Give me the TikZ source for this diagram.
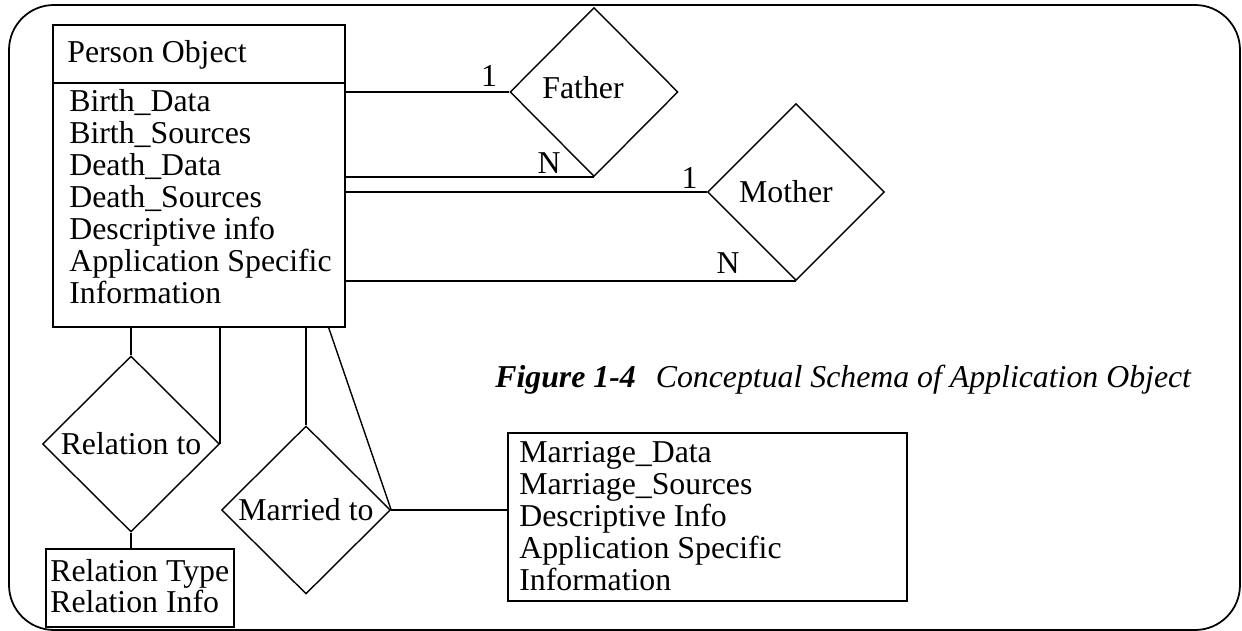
\documentclass[tikz,border=0pt]{standalone}
\usepackage{fontspec}
\setmainfont{Liberation Serif}
\usetikzlibrary{shapes.geometric}

\tikzset{
  er/.style={line width=0.8pt},
  entity/.style={draw, er, inner sep=0pt},
  relship/.style={draw, er, diamond, inner sep=0pt},
  attr/.style={inner sep=0pt, anchor=base west},
  card/.style={inner sep=0pt, anchor=base east},
}

\begin{document}
\begin{tikzpicture}[x=0.02cm, y=-0.02cm,
  every node/.style={font=\fontsize{18.1}{18.2}\selectfont}]
\useasboundingbox (0,0) rectangle (1242,631);
% frame
\draw[line width=1pt, rounded corners=0.9cm] (9,5) rectangle (1240,630);

% person object
\node[entity, minimum width=5.84cm, minimum height=6.04cm] (person) at (199,176) {};
\coordinate (hdr) at (199,83);
\draw[er] (person.west |- hdr) -- (person.east |- hdr);
\node[attr] (ptitle) at (67,63) {Person Object};
\foreach \t [count=\i] in {Birth\_Data, Birth\_Sources, Death\_Data, Death\_Sources,
    Descriptive info, Application Specific, Information}
  \node[attr] (pa\i) at (69,{112+31.85*(\i-1)}) {\t};

% father and mother
\node[relship, minimum width=3.36cm, minimum height=3.38cm,
  label={[shift={(-0.22cm,0.08cm)}]center:Father}] (father) at (594,92) {};
\node[relship, minimum width=3.54cm, minimum height=3.54cm,
  label={[shift={(-0.2cm,0cm)}]center:Mother}] (mother) at (796,192) {};
\draw[er] (father.west -| person.east) -- (father.west);
\draw[er] (father.south -| person.east) -- (father.south);
\draw[er] (mother.west -| person.east) -- (mother.west);
\draw[er] (mother.south -| person.east) -- (mother.south);
\node[card] (f1) at ([xshift=-0.24cm, yshift=0.1cm]father.west) {1};
\node[card] (fn) at ([xshift=-0.66cm, yshift=0.08cm]father.south) {N};
\node[card] (m1) at ([xshift=-0.18cm, yshift=0.06cm]mother.west) {1};
\node[card] (mn) at ([xshift=-1.12cm, yshift=0.16cm]mother.south) {N};

% relation to
\node[relship, minimum width=3.54cm, minimum height=3.52cm] (rel) at (131,444) {Relation to};
\node[entity, minimum width=3.76cm, minimum height=1.56cm] (reltype) at (140,588) {};
\node[attr] (rt1) at (50,582) {Relation Type};
\node[attr] (rt2) at (50,613) {Relation Info};
\draw[er] (rel.north) -- (rel.north |- person.south);
\draw[er] (rel.east) -- (rel.east |- person.south);
\draw[er] (rel.south) -- (rel.south |- reltype.north);

% married to
\node[relship, minimum width=3.38cm, minimum height=3.36cm] (married) at (306,510) {Married to};
\node[entity, minimum width=7.98cm, minimum height=3.36cm] (marriage) at (707.5,517) {};
\foreach \t [count=\i] in {Marriage\_Data, Marriage\_Sources, Descriptive Info,
    Application Specific, Information}
  \node[attr] (ma\i) at (519,{463+31.8*(\i-1)}) {\t};
\draw[er] (married.north) -- (married.north |- person.south);
\draw[er] (married.east) -- ([xshift=-0.34cm]person.south east);
\draw[er] (married.east) -- (married.east -| marriage.west);

% caption
\node[attr] (caption) at (495,388) {\bfseries\itshape Figure 1-4\hspace{0.4cm}\mdseries Conceptual Schema of Application Object};
\end{tikzpicture}
\end{document}
